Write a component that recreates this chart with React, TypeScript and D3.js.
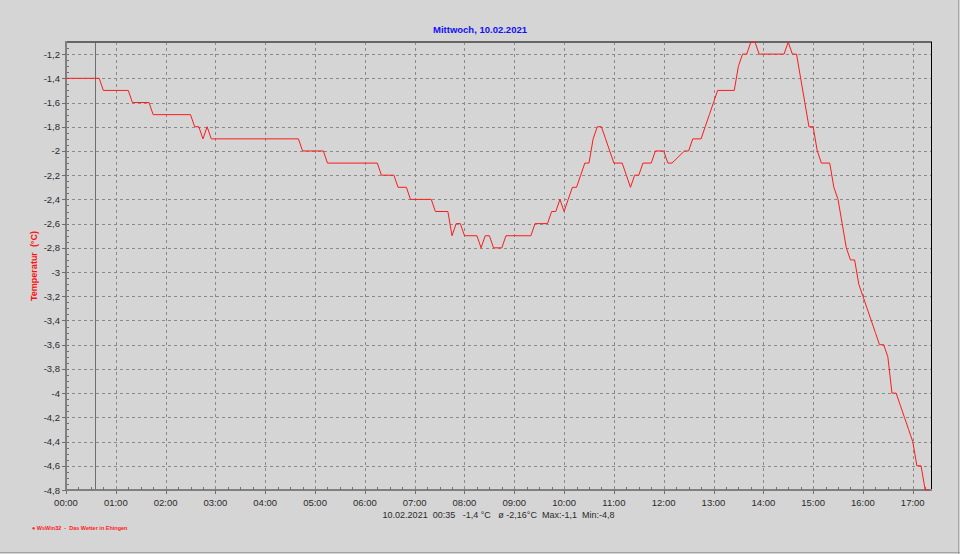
import * as d3 from 'd3'

// temperature log, 10.02.2021 (minutes since midnight -> °C)
const minutes = [
  0, 40, 45, 75, 80, 100, 105, 150, 155, 160, 165, 170, 175, 280, 285, 310, 315, 375, 380, 395,
  400, 410, 415, 440, 445, 460, 465, 470, 475, 480, 495, 500, 505, 510, 515, 525, 530, 560, 565, 580,
  585, 590, 595, 600, 605, 610, 615, 620, 625, 630, 635, 640, 645, 650, 655, 660, 670, 675, 680, 685,
  690, 695, 705, 710, 720, 725, 730, 745, 750, 755, 765, 770, 775, 780, 785, 805, 810, 815, 820, 825,
  830, 835, 865, 870, 875, 880, 885, 890, 895, 900, 905, 910, 920, 925, 930, 935, 940, 945, 950, 955,
  960, 965, 970, 975, 980, 985, 990, 995, 1000, 1005, 1010, 1015, 1020, 1025, 1030, 1035, 1040,
]
const temps = [
  -1.4, -1.4, -1.5, -1.5, -1.6, -1.6, -1.7, -1.7, -1.8, -1.8, -1.9, -1.8, -1.9, -1.9, -2.0, -2.0, -2.1, -2.1, -2.2, -2.2,
  -2.3, -2.3, -2.4, -2.4, -2.5, -2.5, -2.7, -2.6, -2.6, -2.7, -2.7, -2.8, -2.7, -2.7, -2.8, -2.8, -2.7, -2.7, -2.6, -2.6,
  -2.5, -2.5, -2.4, -2.5, -2.4, -2.3, -2.3, -2.2, -2.1, -2.1, -1.9, -1.8, -1.8, -1.9, -2.0, -2.1, -2.1, -2.2, -2.3, -2.2,
  -2.2, -2.1, -2.1, -2.0, -2.0, -2.1, -2.1, -2.0, -2.0, -1.9, -1.9, -1.8, -1.7, -1.6, -1.5, -1.5, -1.3, -1.2, -1.2, -1.1,
  -1.1, -1.2, -1.2, -1.1, -1.2, -1.2, -1.4, -1.6, -1.8, -1.8, -2.0, -2.1, -2.1, -2.3, -2.4, -2.6, -2.8, -2.9, -2.9, -3.1,
  -3.2, -3.3, -3.4, -3.5, -3.6, -3.6, -3.7, -4.0, -4.0, -4.1, -4.2, -4.3, -4.4, -4.6, -4.6, -4.8, -4.8,
]

const yTicks = [
  -1.2, -1.4, -1.6, -1.8, -2, -2.2, -2.4, -2.6, -2.8, -3, -3.2, -3.4, -3.6, -3.8, -4, -4.2, -4.4, -4.6, -4.8,
]
const xTickHours = [0, 1, 2, 3, 4, 5, 6, 7, 8, 9, 10, 11, 12, 13, 14, 15, 16, 17]

const title = 'Mittwoch, 10.02.2021'
const yLabel = 'Temperatur  (°C)'
const footer = '10.02.2021  00:35   -1,4 °C   ø -2,16°C  Max:-1,1  Min:-4,8'
const credit = '● WsWin32  -  Das Wetter in Ehingen'
const cursorMinute = 35

const W = 960
const H = 554
const M = { left: 66, right: 931, top: 42, bottom: 490 }
const FONT = '"Liberation Sans", Arial, sans-serif'

export default function App() {
  const x = d3.scaleLinear().domain([0, 1042]).range([M.left, M.right])
  const y = d3.scaleLinear().domain([-4.8, -1.1]).range([M.bottom, M.top])

  const pts = minutes.map((m, i) => [m, temps[i]] as [number, number])
  const line = d3
    .line<[number, number]>()
    .x((d) => x(d[0]))
    .y((d) => y(d[1]))

  const minorX = d3.range(15, 1042, 15).filter((m) => m % 60 !== 0)
  const minorY = d3.range(-4.75, -1.1, 0.05)
  const fmt = (v: number) => String(+v.toFixed(1)).replace('.', ',')
  const hhmm = (h: number) => `${String(h).padStart(2, '0')}:00`

  return (
    <svg
      width={W}
      height={H}
      style={{ position: 'absolute', left: 0, top: 0, display: 'block' }}
      fontFamily={FONT}
    >
      <rect width={W} height={H} fill="#d5d5d5" />
      <line x1={0} x2={W} y1={H - 1.5} y2={H - 1.5} stroke="#a4a4a4" />
      <line x1={W - 1.5} x2={W - 1.5} y1={0} y2={H} stroke="#a4a4a4" />

      <text x={480} y={33} textAnchor="middle" fontSize={9.5} fontWeight="bold" fill="#1010ff">
        {title}
      </text>

      {/* grid */}
      {yTicks.map((v) => (
        <line
          key={'gy' + v}
          x1={M.left}
          x2={M.right}
          y1={Math.round(y(v)) + 0.5}
          y2={Math.round(y(v)) + 0.5}
          stroke="#8a8a8a"
          strokeDasharray="3,3"
        />
      ))}
      {xTickHours
        .filter((h) => h > 0)
        .map((h) => (
          <line
            key={'gx' + h}
            x1={Math.round(x(h * 60)) + 0.5}
            x2={Math.round(x(h * 60)) + 0.5}
            y1={M.top}
            y2={M.bottom}
            stroke="#8a8a8a"
            strokeDasharray="3,3"
          />
        ))}

      {/* cursor */}
      <line
        x1={Math.round(x(cursorMinute)) + 0.5}
        x2={Math.round(x(cursorMinute)) + 0.5}
        y1={M.top}
        y2={M.bottom}
        stroke="#6e6e6e"
      />

      {/* frame */}
      <line x1={M.left} x2={M.right + 1} y1={M.top} y2={M.top} stroke="#666" strokeWidth={2} />
      <line x1={M.right + 0.5} x2={M.right + 0.5} y1={M.top} y2={M.bottom} stroke="#000" />
      <line x1={M.left} x2={M.left} y1={M.top - 1} y2={M.bottom + 1} stroke="#808080" strokeWidth={2} />
      <line x1={M.left} x2={M.right + 1} y1={M.bottom} y2={M.bottom} stroke="#808080" strokeWidth={2} />

      {/* y axis */}
      {minorY.map((v, i) => (
        <line
          key={'my' + i}
          x1={M.left + 1}
          x2={M.left + 3}
          y1={Math.round(y(v)) + 0.5}
          y2={Math.round(y(v)) + 0.5}
          stroke="#707070"
        />
      ))}
      {yTicks.map((v) => (
        <g key={'ty' + v}>
          <line x1={M.left - 4} x2={M.left} y1={Math.round(y(v)) + 0.5} y2={Math.round(y(v)) + 0.5} stroke="#707070" />
          <text x={M.left - 6} y={y(v) + 3.5} textAnchor="end" fontSize={9.5} fill="#2a2a2a">
            {fmt(v)}
          </text>
        </g>
      ))}
      <text
        transform={`translate(37,${(M.top + M.bottom) / 2}) rotate(-90)`}
        textAnchor="middle"
        fontSize={9}
        fontWeight="bold"
        fill="#ff1010"
        style={{ whiteSpace: 'pre' }}
      >
        {yLabel}
      </text>

      {/* x axis */}
      {minorX.map((m) => (
        <line
          key={'mx' + m}
          x1={Math.round(x(m)) + 0.5}
          x2={Math.round(x(m)) + 0.5}
          y1={M.bottom - 3}
          y2={M.bottom}
          stroke="#707070"
        />
      ))}
      {xTickHours.map((h) => (
        <g key={'tx' + h}>
          <line
            x1={Math.round(x(h * 60)) + 0.5}
            x2={Math.round(x(h * 60)) + 0.5}
            y1={M.bottom}
            y2={M.bottom + 4}
            stroke="#707070"
          />
          <text x={x(h * 60)} y={506} textAnchor="middle" fontSize={9.5} fill="#2a2a2a">
            {hhmm(h)}
          </text>
        </g>
      ))}

      <path d={line(pts) ?? ''} fill="none" stroke="#ff1a1a" strokeWidth={1} />

      <text
        x={(M.left + M.right) / 2}
        y={518}
        textAnchor="middle"
        fontSize={9}
        fill="#2a2a2a"
        style={{ whiteSpace: 'pre' }}
      >
        {footer}
      </text>
      <text x={32} y={530} fontSize={5.5} fontWeight="bold" fill="#ff1a1a" style={{ whiteSpace: 'pre' }}>
        {credit}
      </text>
    </svg>
  )
}
